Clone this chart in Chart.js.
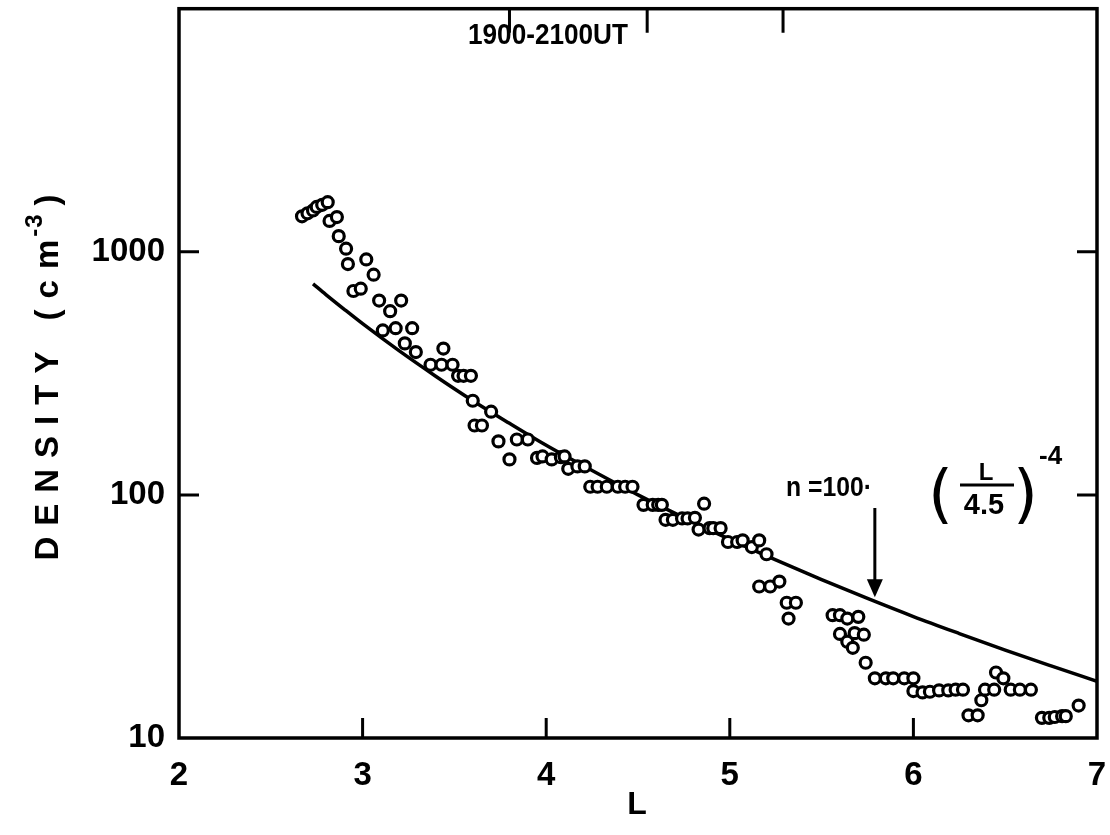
<!DOCTYPE html>
<html>
<head>
<meta charset="utf-8">
<script src="https://cdn.jsdelivr.net/npm/chart.js@4.4.1/dist/chart.umd.min.js"></script>
<style>
  body { margin: 0; background: #fff; }
  #wrap { width: 1110px; height: 835px; }
</style>
</head>
<body>
<div id="wrap"><canvas id="densityChart"></canvas></div>
<script>
// observed densities (open circles)
const obsL = [
  2.67, 2.70, 2.73, 2.75, 2.78, 2.81, 2.82, 2.86, 2.87, 2.91,
  2.92, 3.02, 3.06, 2.95, 2.99, 3.09, 3.21, 3.15, 3.11, 3.18,
  3.27, 3.23, 3.29, 3.44, 3.37, 3.43, 3.49, 3.52, 3.55, 3.59,
  3.60, 3.70, 3.61, 3.65, 3.74, 3.84, 3.90, 3.80, 3.95, 3.98,
  4.03, 4.08, 4.10, 4.12, 4.17, 4.21, 4.24, 4.28, 4.33, 4.39,
  4.43, 4.47, 4.53, 4.58, 4.61, 4.63, 4.65, 4.69, 4.74, 4.77,
  4.81, 4.86, 4.83, 4.89, 4.91, 4.95, 4.99, 5.04, 5.07, 5.12,
  5.16, 5.20, 5.16, 5.22, 5.27, 5.31, 5.36, 5.32, 5.56, 5.60,
  5.64, 5.70, 5.60, 5.64, 5.67, 5.68, 5.73, 5.74, 5.79, 5.85,
  5.89, 5.95, 6.00, 6.00, 6.05, 6.09, 6.14, 6.19, 6.23, 6.27,
  6.30, 6.35, 6.37, 6.39, 6.44, 6.45, 6.49, 6.53, 6.58, 6.64,
  6.70, 6.74, 6.77, 6.81, 6.83, 6.90
];
const obsDensity = [
  1400, 1440, 1480, 1530, 1560, 1600, 1340, 1390, 1160, 1030,
  890, 930, 805, 690, 705, 630, 630, 570, 475, 485,
  485, 420, 387, 400, 343, 343, 343, 309, 309, 309,
  244, 220, 193, 193, 166, 169, 169, 140, 142, 144,
  140, 143, 144, 128, 131, 131, 108, 108, 108, 108,
  108, 108, 91, 91, 91, 91, 79, 79, 80, 80,
  80.5, 92, 72, 73, 73, 73, 64, 64, 65, 61,
  65, 57, 42, 42, 44, 36, 36, 31, 32, 32,
  31, 31.5, 26.8, 24.9, 23.5, 27, 26.6, 20.4, 17.6, 17.6,
  17.6, 17.6, 17.6, 15.6, 15.4, 15.5, 15.7, 15.7, 15.8, 15.8,
  12.4, 12.4, 14.3, 15.8, 15.8, 18.6, 17.6, 15.8, 15.8, 15.8,
  12.1, 12.1, 12.2, 12.3, 12.3, 13.6
];

// model curve n = 100 (L/4.5)^-4
const fitL = [2.73, 2.8, 2.9, 3.0, 3.2, 3.4, 3.6, 3.8, 4.0, 4.25, 4.5,
              4.75, 5.0, 5.25, 5.5, 5.75, 6.0, 6.25, 6.5, 6.75, 7.0];
const fitDensity = [738, 667, 580, 506, 391, 307, 244, 197, 160, 126, 100,
                    80.6, 65.6, 54.0, 44.8, 37.5, 31.6, 26.9, 23.0, 19.8, 17.1];

const xTickValues = [2, 3, 4, 5, 6, 7];
const yTickValues = [10, 100, 1000];
const bottomTicks = [3, 4, 5, 6];
const topTicks = [3.8, 4.55, 5.29];
const sideTicks = [100, 1000];
const arrowL = 5.79;

const FONT = '"Liberation Sans", Arial, sans-serif';

function noPad(axis) {
  axis.paddingLeft = 0;
  axis.paddingRight = 0;
  axis.paddingTop = 0;
  axis.paddingBottom = 0;
}

const decor = {
  id: 'decor',
  afterDraw(chart) {
    const { ctx, chartArea: a, scales: { x, y } } = chart;
    ctx.save();
    ctx.strokeStyle = '#000';
    ctx.fillStyle = '#000';

    // title inside the frame
    ctx.textBaseline = 'alphabetic';
    ctx.textAlign = 'left';
    ctx.font = 'bold 30px ' + FONT;
    ctx.fillText('1900-2100UT', 468, 44, 160);

    // frame
    ctx.lineWidth = 3.5;
    ctx.strokeRect(a.left, a.top, a.right - a.left, a.bottom - a.top);

    // inward ticks
    ctx.lineWidth = 3;
    ctx.beginPath();
    bottomTicks.forEach(v => {
      const px = x.getPixelForValue(v);
      ctx.moveTo(px, a.bottom); ctx.lineTo(px, a.bottom - 20);
    });
    topTicks.forEach(v => {
      const px = x.getPixelForValue(v);
      ctx.moveTo(px, a.top); ctx.lineTo(px, a.top + 24);
    });
    sideTicks.forEach(v => {
      const py = y.getPixelForValue(v);
      ctx.moveTo(a.left, py); ctx.lineTo(a.left + 20, py);
      ctx.moveTo(a.right, py); ctx.lineTo(a.right - 20, py);
    });
    ctx.stroke();

    // formula
    ctx.font = 'bold 28px ' + FONT;
    ctx.fillText('n =100·', 786, 496, 86);
    ctx.font = '64px "DejaVu Sans", sans-serif';
    ctx.fillText('(', 928, 516);
    ctx.fillText(')', 1013, 516);
    ctx.textAlign = 'center';
    ctx.font = 'bold 24px ' + FONT;
    ctx.fillText('L', 986, 480);
    ctx.font = 'bold 29px ' + FONT;
    ctx.fillText('4.5', 984, 514);
    ctx.textAlign = 'left';
    ctx.font = 'bold 26px ' + FONT;
    ctx.fillText('-4', 1039, 464);
    ctx.lineWidth = 3;
    ctx.beginPath();
    ctx.moveTo(960, 485); ctx.lineTo(1014, 485);
    ctx.stroke();

    // arrow to the curve
    const ax = x.getPixelForValue(arrowL);
    const tip = y.getPixelForValue(100 * Math.pow(arrowL / 4.5, -4)) - 4;
    ctx.lineWidth = 3;
    ctx.beginPath();
    ctx.moveTo(ax, 508); ctx.lineTo(ax, tip - 14);
    ctx.stroke();
    ctx.beginPath();
    ctx.moveTo(ax - 8, tip - 18); ctx.lineTo(ax + 8, tip - 18); ctx.lineTo(ax, tip);
    ctx.closePath();
    ctx.fill();

    // x axis title
    ctx.textAlign = 'center';
    ctx.font = 'bold 32px ' + FONT;
    ctx.fillText('L', 637, 814);

    // y axis title, rotated, with superscript
    ctx.translate(58, 372);
    ctx.rotate(-Math.PI / 2);
    ctx.letterSpacing = '11px';
    ctx.font = 'bold 33px ' + FONT;
    const main = 'DENSITY (cm';
    const sup = '-3';
    const w1 = ctx.measureText(main).width;
    ctx.letterSpacing = '1px';
    ctx.font = 'bold 24px ' + FONT;
    const w2 = ctx.measureText(sup).width;
    ctx.letterSpacing = '11px';
    ctx.font = 'bold 33px ' + FONT;
    const w3 = ctx.measureText(')').width;
    const sx = -(w1 + w2 + w3) / 2;
    ctx.textAlign = 'left';
    ctx.fillText(main, sx, 0);
    ctx.letterSpacing = '1px';
    ctx.font = 'bold 24px ' + FONT;
    ctx.fillText(sup, sx + w1 - 8, -16);
    ctx.letterSpacing = '11px';
    ctx.font = 'bold 33px ' + FONT;
    ctx.fillText(')', sx + w1 + w2, 0);
    ctx.restore();
  }
};

new Chart(document.getElementById('densityChart').getContext('2d'), {
  type: 'scatter',
  data: {
    datasets: [
      {
        label: 'observed',
        data: obsL.map((l, i) => ({ x: l, y: obsDensity[i] })),
        pointStyle: 'circle',
        pointRadius: 5.5,
        pointBorderWidth: 3.2,
        pointBorderColor: '#000',
        pointBackgroundColor: '#fff',
        showLine: false
      },
      {
        label: 'model',
        data: fitL.map((l, i) => ({ x: l, y: fitDensity[i] })),
        showLine: true,
        borderColor: '#000',
        borderWidth: 3.5,
        pointRadius: 0,
        cubicInterpolationMode: 'monotone'
      }
    ]
  },
  options: {
    responsive: true,
    maintainAspectRatio: false,
    animation: false,
    layout: { padding: { top: 5, right: 13, left: 0, bottom: 0 } },
    plugins: { legend: { display: false }, tooltip: { enabled: false } },
    scales: {
      x: {
        type: 'linear',
        min: 2,
        max: 7,
        afterBuildTicks: axis => { axis.ticks = xTickValues.map(v => ({ value: v })); },
        afterFit: axis => { axis.height = 97; noPad(axis); },
        grid: { display: false, drawTicks: false },
        border: { display: false },
        ticks: {
          color: '#000',
          padding: 18,
          maxRotation: 0,
          font: { family: FONT, size: 33, weight: 'bold' }
        }
      },
      y: {
        type: 'logarithmic',
        min: 10,
        max: 10000,
        afterBuildTicks: axis => { axis.ticks = yTickValues.map(v => ({ value: v })); },
        afterFit: axis => { axis.width = 179; noPad(axis); },
        grid: { display: false, drawTicks: false },
        border: { display: false },
        ticks: {
          color: '#000',
          padding: 14,
          callback: v => String(v),
          font: { family: FONT, size: 33, weight: 'bold' }
        }
      }
    }
  },
  plugins: [decor]
});
</script>
</body>
</html>
